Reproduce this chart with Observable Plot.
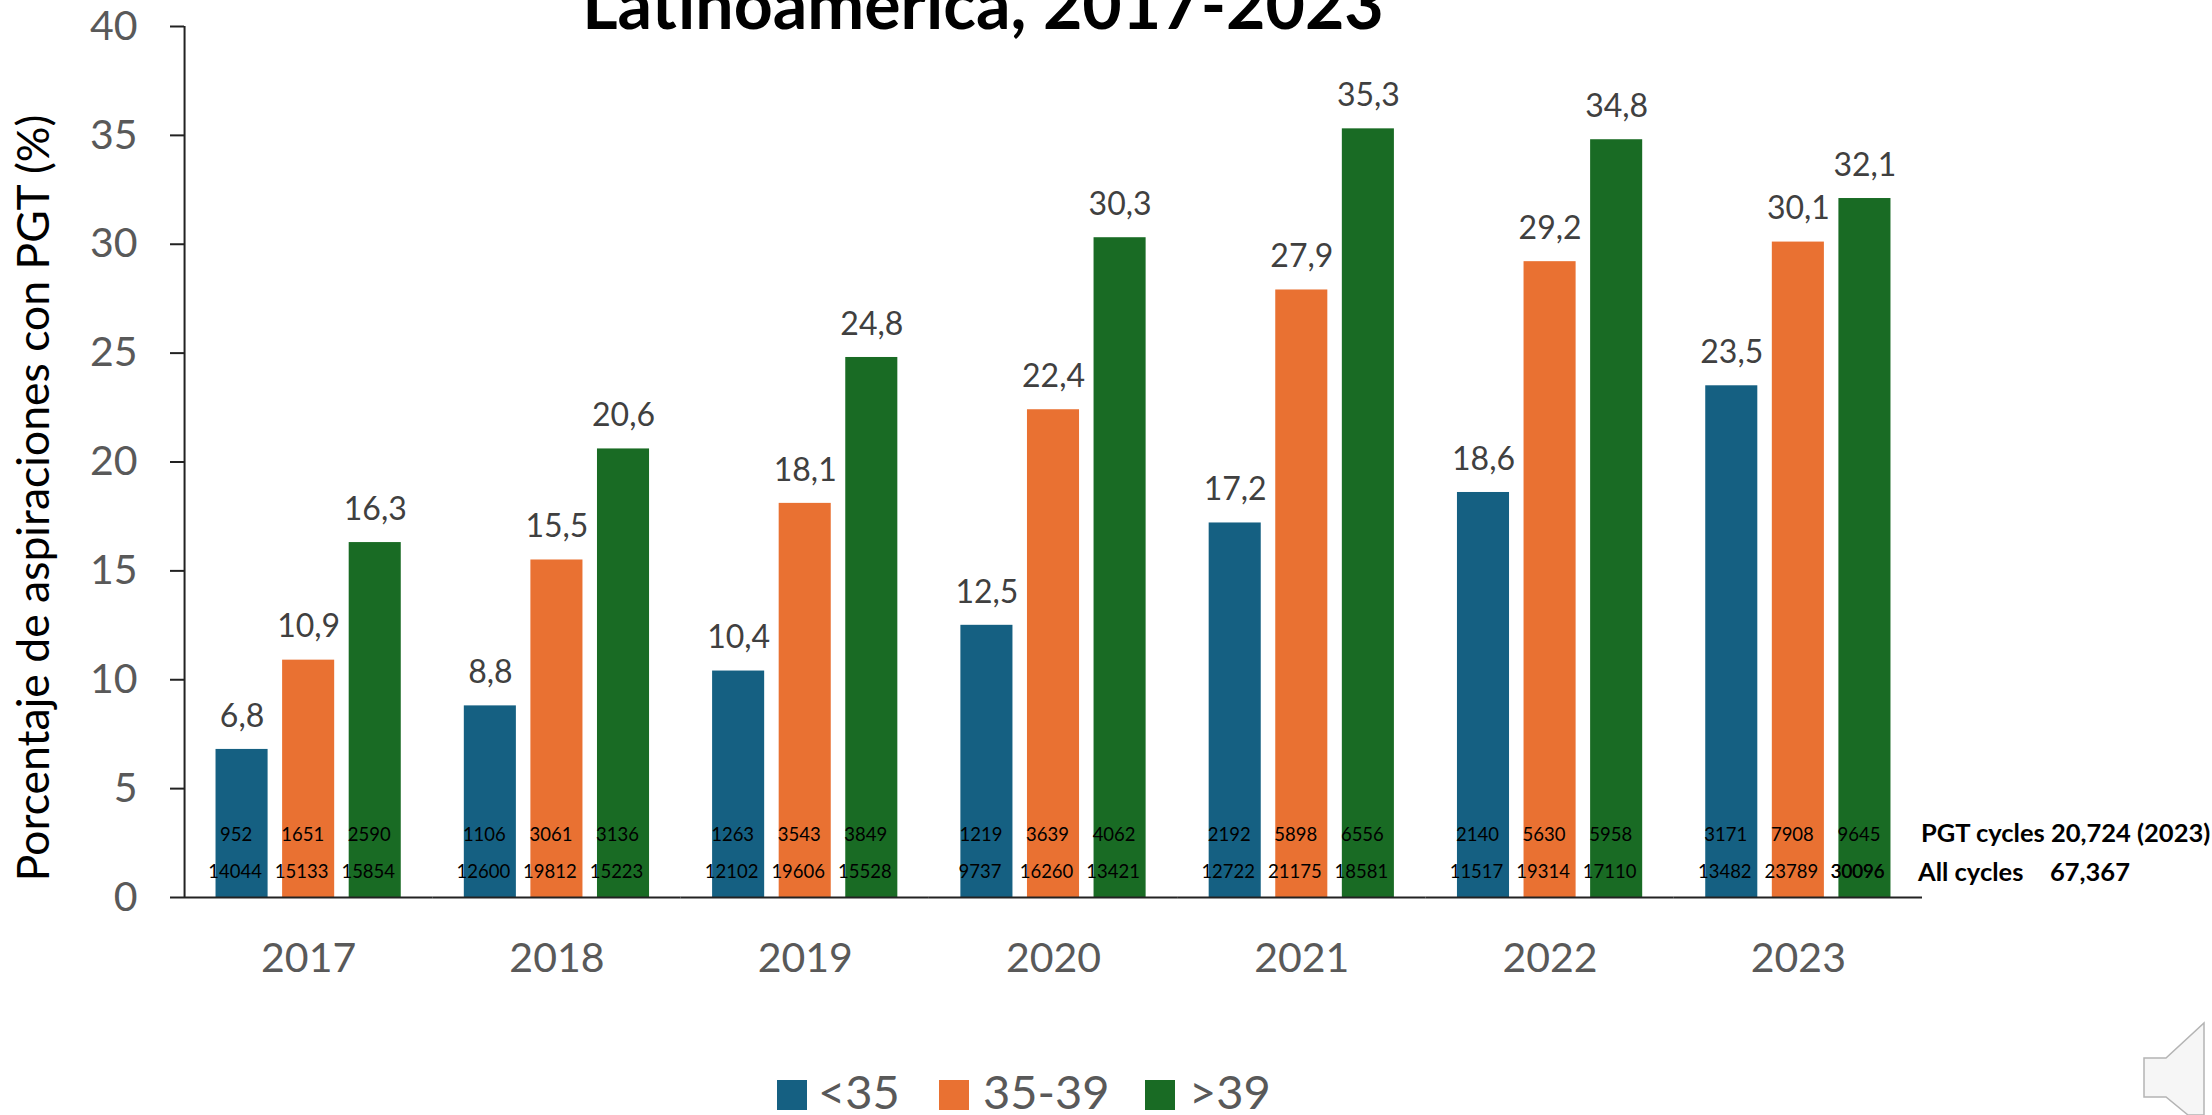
<!DOCTYPE html>
<html lang="es">
<head>
<meta charset="utf-8">
<script src="https://cdn.jsdelivr.net/npm/d3@7"></script>
<script src="https://cdn.jsdelivr.net/npm/@observablehq/plot@0.6"></script>
<style>
  html, body { margin: 0; background: #fff; overflow: hidden; }
  body { position: relative; width: 2212px; height: 1115px; font-family: Lato, sans-serif; }
  #chart { position: absolute; left: 0; top: 0; }
  .overlay { position: absolute; white-space: pre; line-height: 1; }
  #title { left: 483px; width: 1000px; top: -31px; text-align: center; font-size: 68px; font-weight: 700; color: #000; }
  #ylabel { left: 32px; top: 498px; transform: translate(-50%, -50%) rotate(-90deg); font-size: 44.5px; color: #000; }
  .note { font-size: 25.5px; font-weight: 700; color: #000; transform: translateY(-50%); }
  .swatch { position: absolute; top: 1080px; width: 30px; height: 30px; }
  .legend-label { top: 1068px; font-size: 47px; color: #595959; }
  #speaker { position: absolute; left: 2130px; top: 1010px; }
</style>
</head>
<body>
<div id="chart"></div>
<div id="title" class="overlay">Latinoamerica, 2017-2023</div>
<div id="ylabel" class="overlay">Porcentaje de aspiraciones con PGT (%)</div>
<div class="overlay note" style="left:1921px;top:833px">PGT cycles 20,724 (2023)</div>
<div class="overlay note" style="left:1918px;top:872px">All cycles</div>
<div class="overlay note" style="left:2050px;top:872px">67,367</div>
<div id="legend"></div>
<svg id="speaker" width="82" height="105" viewBox="2130 1010 82 105">
  <path d="M2144 1058H2166L2204 1023V1115H2188L2166 1097H2144Z" fill="#f6f6f6" stroke="#b4b4b4" stroke-width="1.5"/>
</svg>
<script>
const years = [2017, 2018, 2019, 2020, 2021, 2022, 2023];
const ageGroups = ["<35", "35-39", ">39"];
const ageColors = ["#156082", "#E97132", "#196B24"];

// Share of aspirations with PGT, per year
const pctUnder35 = [6.8, 8.8, 10.4, 12.5, 17.2, 18.6, 23.5];
const pct35to39 = [10.9, 15.5, 18.1, 22.4, 27.9, 29.2, 30.1];
const pctOver39 = [16.3, 20.6, 24.8, 30.3, 35.3, 34.8, 32.1];

// PGT cycles, per year
const pgtUnder35 = [952, 1106, 1263, 1219, 2192, 2140, 3171];
const pgt35to39 = [1651, 3061, 3543, 3639, 5898, 5630, 7908];
const pgtOver39 = [2590, 3136, 3849, 4062, 6556, 5958, 9645];

// All cycles, per year
const allUnder35 = [14044, 12600, 12102, 9737, 12722, 11517, 13482];
const all35to39 = [15133, 19812, 19606, 16260, 21175, 19314, 23789];
const allOver39 = [15854, 15223, 15528, 13421, 18581, 17110, 30096];

const pctSeries = [pctUnder35, pct35to39, pctOver39];
const pgtSeries = [pgtUnder35, pgt35to39, pgtOver39];
const allSeries = [allUnder35, all35to39, allOver39];

const rows = years.flatMap((year, i) =>
  ageGroups.map((age, g) => ({
    year,
    age,
    pct: pctSeries[g][i],
    pgt: pgtSeries[g][i],
    all: allSeries[g][i]
  }))
);

const decimalComma = (v) => v.toFixed(1).replace(".", ",");
const INK = "#595959";
const AXIS = "#222";
const lastRow = rows[rows.length - 1];

const plot = Plot.plot({
  width: 2212,
  height: 1115,
  marginLeft: 184,
  marginRight: 290,
  marginTop: 26,
  marginBottom: 218,
  style: { fontFamily: "Lato, sans-serif", background: "transparent" },
  fx: { domain: years, padding: 0, round: false, label: null },
  x: { domain: ageGroups, paddingInner: 0.218, paddingOuter: 0.4735, round: false, axis: null, label: null },
  y: { domain: [0, 40], label: null },
  color: { domain: ageGroups, range: ageColors },
  marks: [
    Plot.barY(rows, { fx: "year", x: "age", y: "pct", fill: "age" }),
    // Vertical axis line, drawn once beside the first year
    Plot.ruleX([{ year: years[0] }], { fx: "year", x: () => ageGroups[0], dx: -57.5, stroke: AXIS, strokeWidth: 2 }),
    Plot.ruleY([0], { stroke: AXIS, strokeWidth: 2 }),
    Plot.axisY({
      ticks: d3.range(0, 41, 5),
      tickSize: 14,
      tickPadding: 33,
      fontSize: 41,
      color: INK,
      stroke: AXIS,
      strokeWidth: 2,
      label: null
    }),
    Plot.axisFx({
      anchor: "bottom",
      tickSize: 0,
      tickPadding: 45,
      fontSize: 41,
      color: INK,
      tickFormat: (d) => String(d),
      label: null
    }),
    Plot.text(rows, {
      fx: "year", x: "age", y: "pct",
      text: (d) => decimalComma(d.pct),
      dy: -33, fontSize: 32, fill: "#404040"
    }),
    Plot.text(rows, {
      fx: "year", x: "age", text: (d) => String(d.pgt),
      frameAnchor: "bottom", dy: -57, dx: -6, fontSize: 18.5, fill: "#000"
    }),
    Plot.text(rows, {
      fx: "year", x: "age", text: (d) => String(d.all),
      frameAnchor: "bottom", dy: -20, dx: -7, fontSize: 18.5, fill: "#000"
    }),
    // The 2023 total for >39 is printed twice, slightly offset, so it reads heavier
    Plot.text([lastRow], {
      fx: "year", x: "age", text: (d) => String(d.all),
      frameAnchor: "bottom", dy: -20, dx: -7.6, fontSize: 18.5, fill: "#000"
    })
  ]
});
document.getElementById("chart").append(plot);

// Legend row under the chart
const swatchLefts = [777, 939, 1145];
const labelLefts = [818, 983, 1189];
const legend = document.getElementById("legend");
ageGroups.forEach((age, i) => {
  const swatch = document.createElement("div");
  swatch.className = "swatch";
  swatch.style.left = swatchLefts[i] + "px";
  swatch.style.background = ageColors[i];
  const label = document.createElement("div");
  label.className = "overlay legend-label";
  label.style.left = labelLefts[i] + "px";
  label.textContent = age;
  legend.append(swatch, label);
});
</script>
</body>
</html>
